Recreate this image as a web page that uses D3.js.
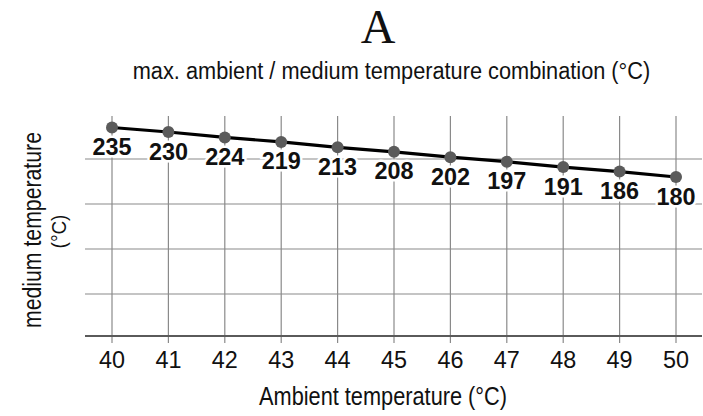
<!DOCTYPE html>
<html>
<head>
<meta charset="utf-8">
<script src="https://cdn.jsdelivr.net/npm/d3@7"></script>
<style>
  body { margin: 0; background: #fff; }
  svg { display: block; }
  text { font-family: "Liberation Sans", Arial, sans-serif; }
</style>
</head>
<body>
<svg id="chart"></svg>
<script>
const width = 703, height = 416;

// ambient temperature (°C) and max medium temperature (°C)
const ambient = [40, 41, 42, 43, 44, 45, 46, 47, 48, 49, 50];
const medium = [235, 230, 224, 219, 213, 208, 202, 197, 191, 186, 180];
const yGrid = [50, 100, 150, 200];

const title = "A";
const subtitle = "max. ambient / medium temperature combination (\u00B0C)";
const xTitle = "Ambient temperature (\u00B0C)";
const yTitle = "medium temperature";
const yUnit = "(\u00B0C)";

const margin = {top: 116, right: 1, bottom: 80, left: 85};

const svg = d3.select("#chart")
    .attr("width", width)
    .attr("height", height);

const x = d3.scaleLinear()
    .domain([40, 50])
    .range([112, 676]);

const y = d3.scaleLinear()
    .domain([3.3, 247.8])
    .range([height - margin.bottom, margin.top]);

const data = ambient.map((a, i) => ({a: a, m: medium[i]}));

// grid
const grid = svg.append("g");
grid.selectAll("line.h")
    .data(yGrid)
    .join("line")
    .attr("class", "h")
    .attr("x1", margin.left)
    .attr("x2", width - margin.right)
    .attr("y1", d => y(d))
    .attr("y2", d => y(d))
    .attr("stroke", "#8a8a8a")
    .attr("stroke-width", 1.2);

grid.selectAll("line.v")
    .data(ambient)
    .join("line")
    .attr("class", "v")
    .attr("x1", d => x(d))
    .attr("x2", d => x(d))
    .attr("y1", margin.top)
    .attr("y2", height - margin.bottom + 7)
    .attr("stroke", "#8a8a8a")
    .attr("stroke-width", 1.2);

// bottom axis line
svg.append("line")
    .attr("x1", margin.left)
    .attr("x2", width - margin.right)
    .attr("y1", height - margin.bottom)
    .attr("y2", height - margin.bottom)
    .attr("stroke", "#5a5a5a")
    .attr("stroke-width", 2);

// x tick labels
svg.append("g")
    .selectAll("text")
    .data(ambient)
    .join("text")
    .attr("x", d => x(d))
    .attr("y", 368)
    .attr("text-anchor", "middle")
    .attr("font-size", 23.4)
    .attr("fill", "#111")
    .text(d => d);

// line
const line = d3.line()
    .x(d => x(d.a))
    .y(d => y(d.m));

svg.append("path")
    .datum(data)
    .attr("d", line)
    .attr("fill", "none")
    .attr("stroke", "#000")
    .attr("stroke-width", 3.2);

// value labels with white halo
svg.append("g")
    .selectAll("text")
    .data(data)
    .join("text")
    .attr("x", d => x(d.a))
    .attr("y", d => y(d.m) + 27.5)
    .attr("text-anchor", "middle")
    .attr("font-size", 23.4)
    .attr("font-weight", "bold")
    .attr("fill", "#111")
    .attr("stroke", "#fff")
    .attr("stroke-width", 5)
    .attr("paint-order", "stroke")
    .text(d => d.m);

// points
svg.append("g")
    .selectAll("circle")
    .data(data)
    .join("circle")
    .attr("cx", d => x(d.a))
    .attr("cy", d => y(d.m))
    .attr("r", 6)
    .attr("fill", "#5b5b5b");

// titles
svg.append("text")
    .attr("x", 378)
    .attr("y", 43)
    .attr("text-anchor", "middle")
    .style("font-family", "'Liberation Serif', 'Times New Roman', serif")
    .attr("font-size", 48)
    .attr("fill", "#111")
    .text(title);

svg.append("text")
    .attr("transform", "translate(391.5,79) scale(0.93,1)")
    .attr("text-anchor", "middle")
    .attr("font-size", 23.4)
    .attr("fill", "#111")
    .text(subtitle);

// axis titles use a narrower face in the original
svg.append("text")
    .attr("transform", "translate(383,405) scale(0.87,1)")
    .attr("text-anchor", "middle")
    .attr("font-size", 25)
    .attr("fill", "#111")
    .text(xTitle);

svg.append("text")
    .attr("transform", "translate(41,230) rotate(-90) scale(0.85,1)")
    .attr("text-anchor", "middle")
    .attr("font-size", 25)
    .attr("fill", "#111")
    .text(yTitle);

svg.append("text")
    .attr("transform", "translate(66,231.5) rotate(-90) scale(0.9,1)")
    .attr("text-anchor", "middle")
    .attr("font-size", 21)
    .attr("fill", "#111")
    .text(yUnit);
</script>
</body>
</html>
